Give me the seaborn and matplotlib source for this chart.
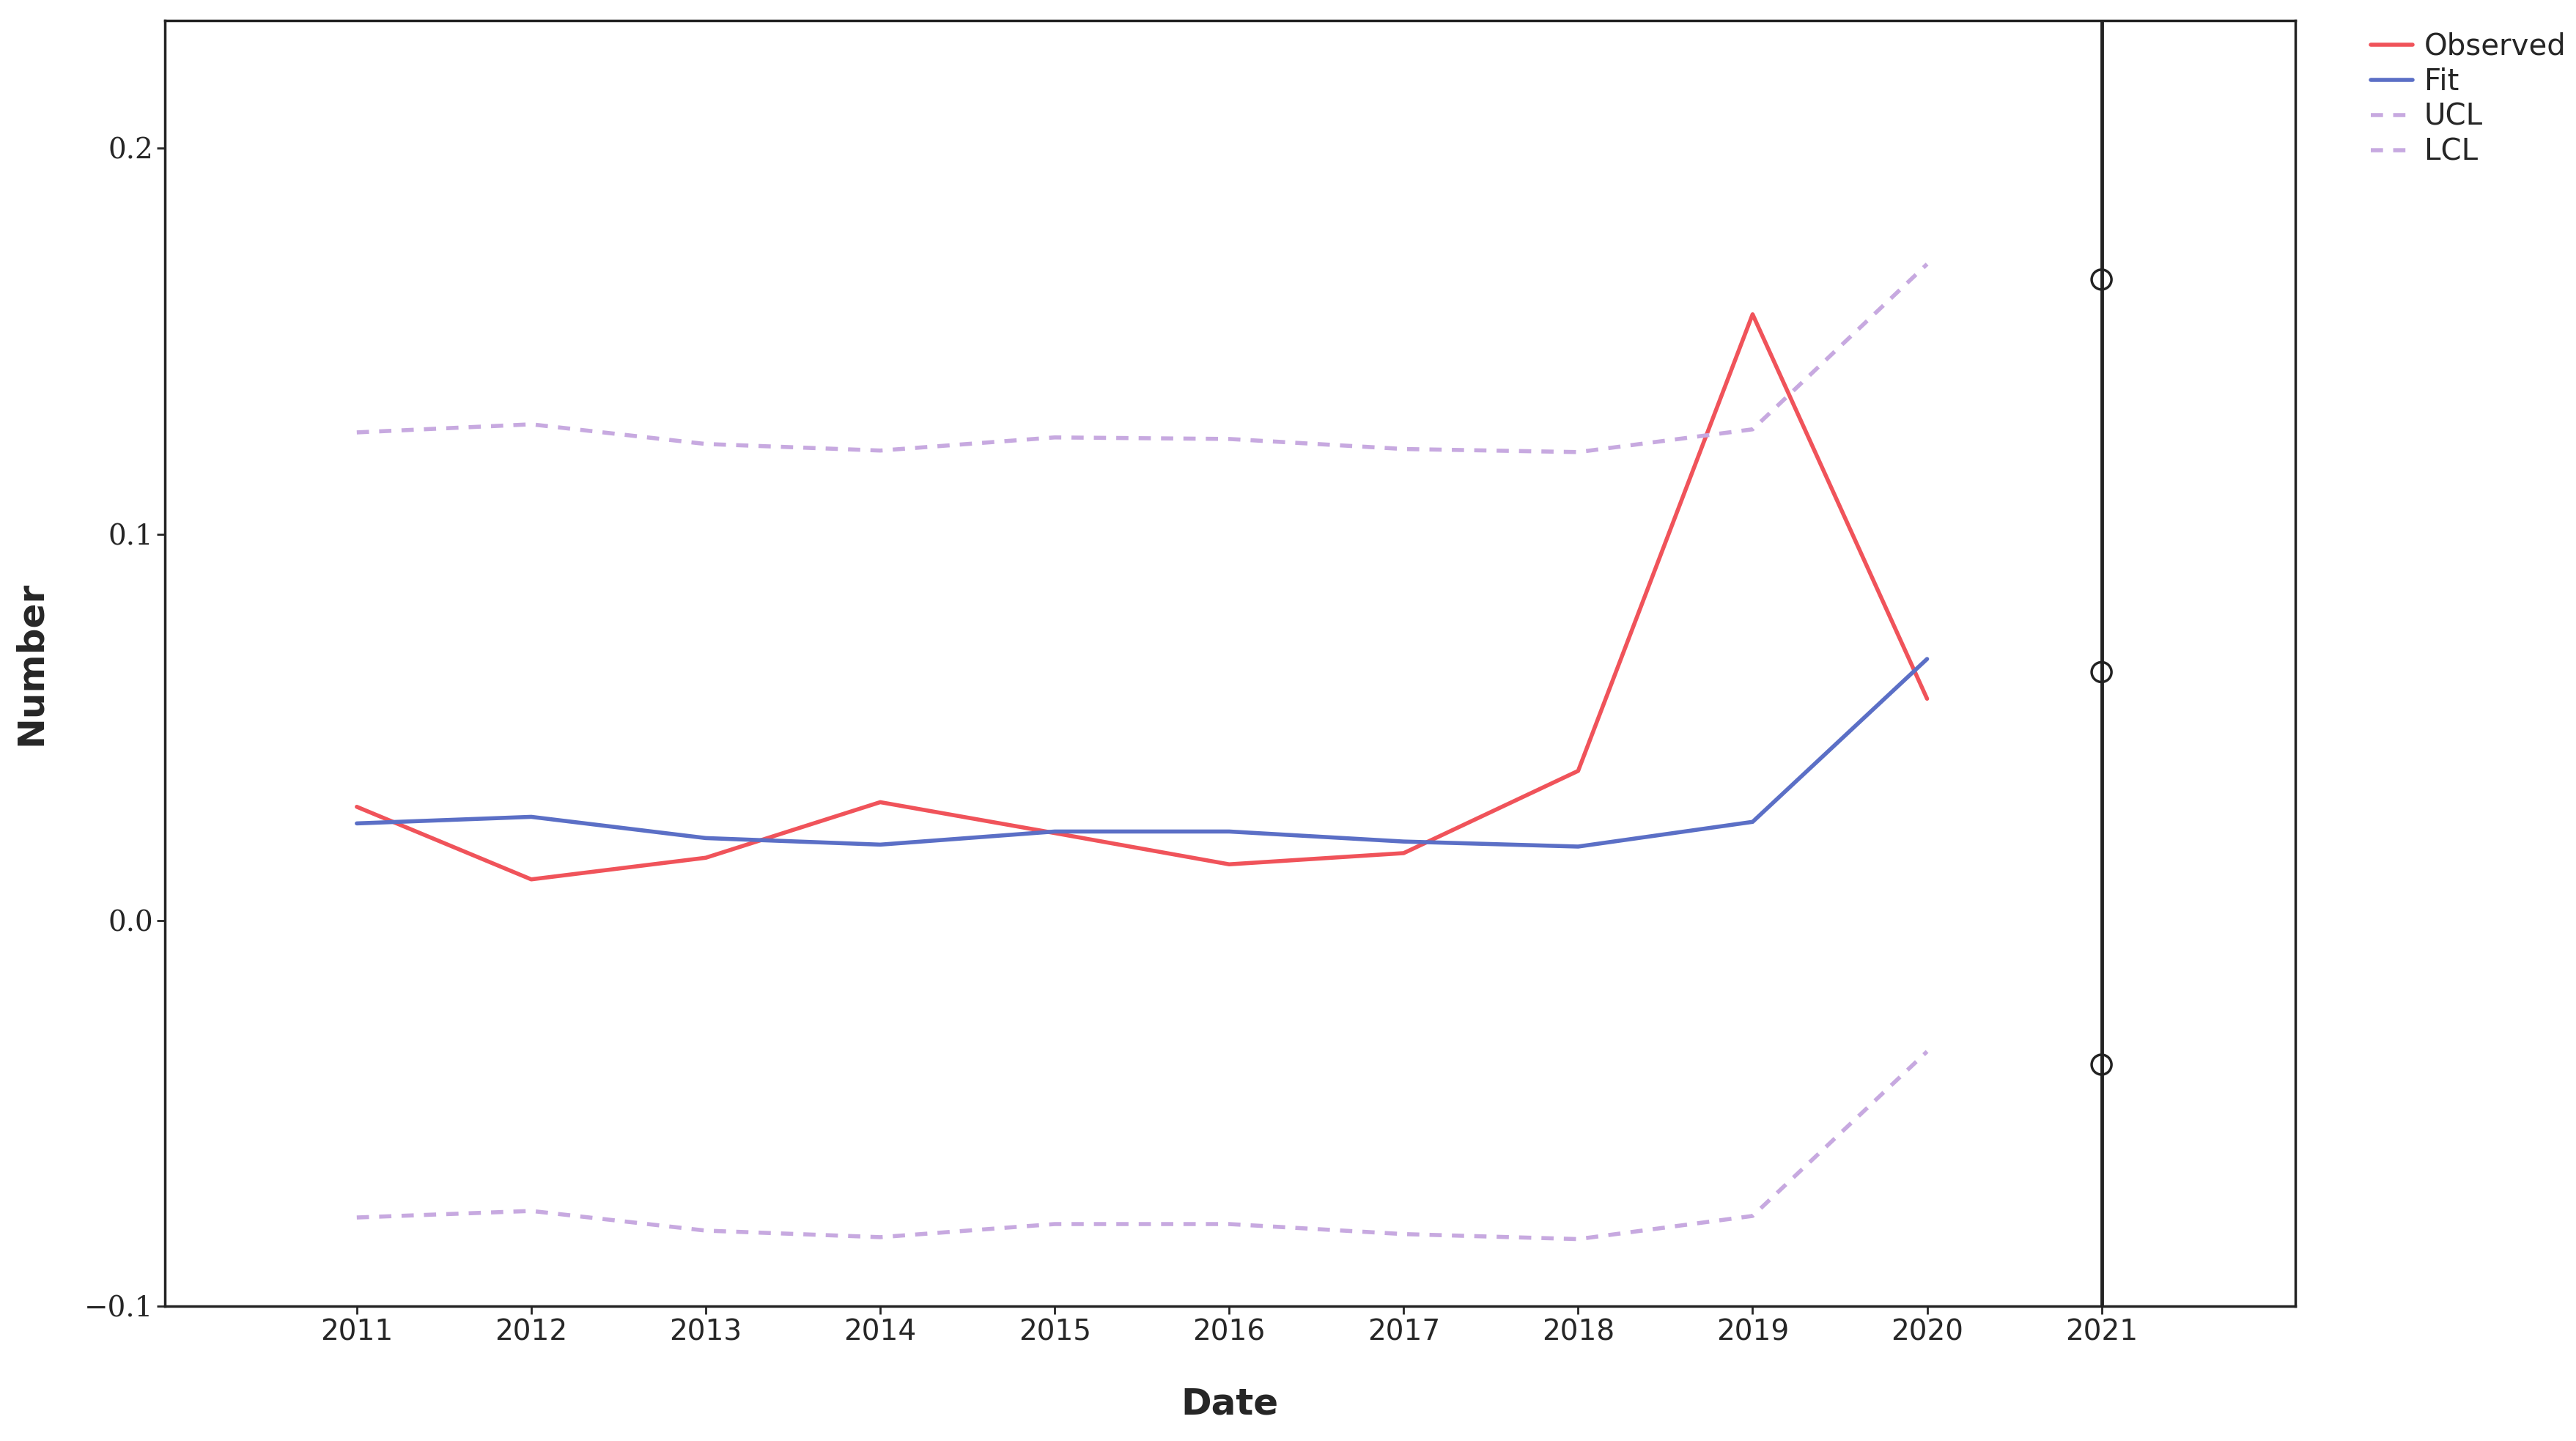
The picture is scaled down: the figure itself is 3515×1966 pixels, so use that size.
import matplotlib
matplotlib.use("Agg")
import matplotlib.pyplot as plt
import pandas as pd
import seaborn as sns

years = [2011, 2012, 2013, 2014, 2015, 2016, 2017, 2018, 2019, 2020]
observed = [0.0294, 0.0106, 0.0162, 0.0306, 0.0226, 0.0145, 0.0174, 0.0387, 0.157, 0.0574]
fit = [0.0251, 0.0268, 0.0213, 0.0196, 0.0230, 0.0230, 0.0204, 0.0191, 0.0255, 0.0677]
ucl = [0.1264, 0.1285, 0.1234, 0.1217, 0.1251, 0.1247, 0.1221, 0.1213, 0.1272, 0.170]
lcl = [-0.0770, -0.0753, -0.0804, -0.0821, -0.0787, -0.0787, -0.0813, -0.0826, -0.0766, -0.034]
forecast_year = [2021, 2021, 2021]
forecast_vals = [0.166, 0.0643, -0.0374]
tick_years = years + [2021]

sns.set_style("white")
fig = plt.figure(figsize=(35.15, 19.66), dpi=100)
ax = fig.add_axes([0.064, 0.0935, 0.827, 0.8925])

df = pd.DataFrame({"Date": years, "Observed": observed, "Fit": fit, "UCL": ucl, "LCL": lcl})
sns.lineplot(data=df, x="Date", y="Observed", color="#f0535a", lw=4, label="Observed", ax=ax)
sns.lineplot(data=df, x="Date", y="Fit", color="#5b6fc6", lw=4, label="Fit", ax=ax)
sns.lineplot(data=df, x="Date", y="UCL", color="#c7a9e0", lw=4, ls=(0, (3, 2.5)), label="UCL", ax=ax)
sns.lineplot(data=df, x="Date", y="LCL", color="#c7a9e0", lw=4, ls=(0, (3, 2.5)), label="LCL", ax=ax)

ax.axvline(2021, color="#222222", lw=3.5)
ax.scatter(forecast_year, forecast_vals, s=380, facecolors="none", edgecolors="#222222", linewidths=2.5, zorder=5)

ax.set_xlim(2009.9, 2022.11)
ax.set_ylim(-0.1, 0.2332)
ax.set_xticks(tick_years)
ax.set_xticklabels([str(y) for y in tick_years], fontsize=28, family="DejaVu Sans")
ax.set_yticks([-0.1, 0.0, 0.1, 0.2])
ax.set_yticklabels(["\u22120.1", "0.0", "0.1", "0.2"], fontsize=28, family="DejaVu Serif")
ax.tick_params(axis="both", direction="out", length=8, width=2, left=True, bottom=True)
ax.set_xlabel("Date", fontsize=36, fontweight="bold", labelpad=40)
ax.set_ylabel("Number", fontsize=36, fontweight="bold", labelpad=35)
for s in ax.spines.values():
    s.set_color("#222222")
    s.set_linewidth(2.5)

ax.legend(loc="upper left", bbox_to_anchor=(1.03, 1.0), frameon=False, fontsize=29,
          handlelength=1.4, handletextpad=0.4, labelspacing=0.2, borderaxespad=0)

fig.savefig("out.png", dpi=100, facecolor="white")
